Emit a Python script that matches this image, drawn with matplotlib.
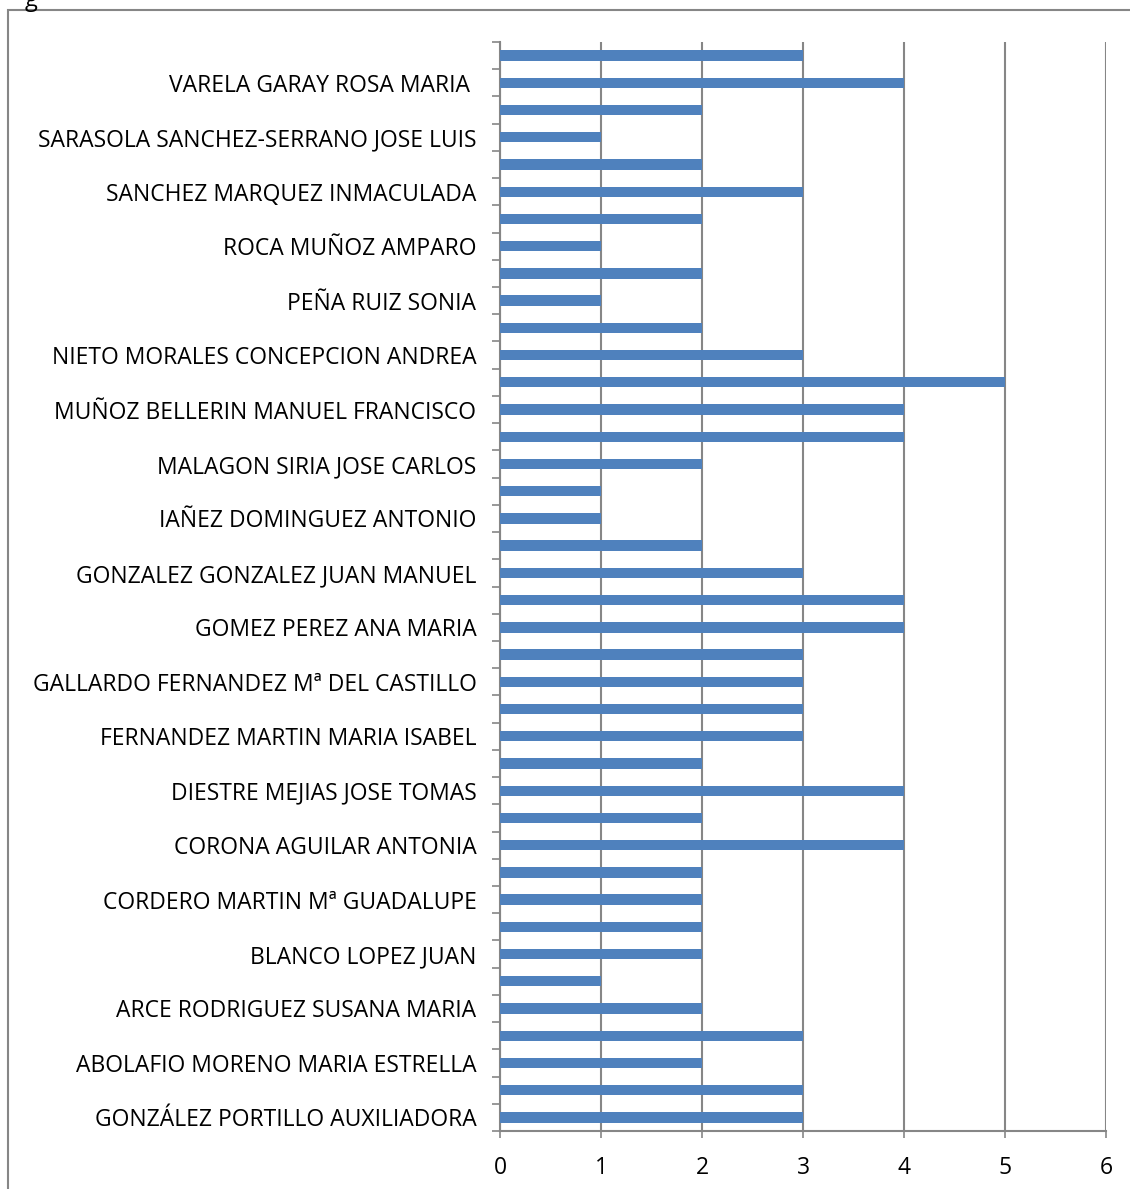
import matplotlib.pyplot as plt
from matplotlib.patches import Rectangle

# values from bottom to top (40 bars, every other one labelled)
valores = [3, 3, 2, 3, 2, 1, 2, 2, 2, 2,
           4, 2, 4, 2, 3, 3, 3, 3, 4, 4,
           3, 2, 1, 1, 2, 4, 4, 5, 3, 2,
           1, 2, 1, 2, 3, 2, 1, 2, 4, 3]

nombres = [
    "GONZÁLEZ PORTILLO AUXILIADORA",
    "ABOLAFIO MORENO MARIA ESTRELLA",
    "ARCE RODRIGUEZ SUSANA MARIA",
    "BLANCO LOPEZ JUAN",
    "CORDERO MARTIN Mª GUADALUPE",
    "CORONA AGUILAR ANTONIA",
    "DIESTRE MEJIAS JOSE TOMAS",
    "FERNANDEZ MARTIN MARIA ISABEL",
    "GALLARDO FERNANDEZ Mª DEL CASTILLO",
    "GOMEZ PEREZ ANA MARIA",
    "GONZALEZ GONZALEZ JUAN MANUEL",
    "IAÑEZ DOMINGUEZ ANTONIO",
    "MALAGON SIRIA JOSE CARLOS",
    "MUÑOZ BELLERIN MANUEL FRANCISCO",
    "NIETO MORALES CONCEPCION ANDREA",
    "PEÑA RUIZ SONIA",
    "ROCA MUÑOZ AMPARO",
    "SANCHEZ MARQUEZ INMACULADA",
    "SARASOLA SANCHEZ-SERRANO JOSE LUIS",
    "VARELA GARAY ROSA MARIA ",
]

xticks = [0, 1, 2, 3, 4, 5, 6]

plt.rcParams['font.family'] = ['Open Sans', 'DejaVu Sans']
gris = '#868686'
azul = '#4F81BD'

fig = plt.figure(figsize=(11.3, 11.89), dpi=100)

# outer chart frame (partially cut off like the original)
fig.patches.append(Rectangle((8 / 1130, -0.05), 1.2, 1 - 10 / 1189 + 0.05,
                             transform=fig.transFigure, fill=False,
                             edgecolor=gris, linewidth=1.5))
# title cut off at the top edge, only the descender is visible
fig.text(25 / 1130, 1.0, "g", fontsize=17, va='center', ha='left')

ax = fig.add_axes([500 / 1130, 58 / 1189, 606 / 1130, 1089 / 1189])

pos = list(range(len(valores)))
ax.barh(pos, valores, height=0.38, color=azul, zorder=3)

ax.set_xlim(0, 6)
ax.set_ylim(-0.5, len(valores) - 0.5)
ax.set_xticks(xticks)
ax.set_xticklabels([str(t) for t in xticks], fontsize=16.5)
ax.set_yticks(pos[::2])
ax.set_yticklabels(nombres, fontsize=16.5)
ax.set_yticks([p - 0.5 for p in range(len(valores) + 1)], minor=True)

ax.tick_params(axis='y', which='major', length=0, pad=17)
ax.tick_params(axis='y', which='minor', length=6, width=1.2, color=gris, direction='out')
ax.tick_params(axis='x', which='major', length=5, width=1.2, color=gris, pad=13)

ax.grid(axis='x', color=gris, linewidth=1.5, zorder=0)
for s in ['top', 'right']:
    ax.spines[s].set_visible(False)
for s in ['left', 'bottom']:
    ax.spines[s].set_color(gris)
    ax.spines[s].set_linewidth(1.5)

fig.savefig('out.png', dpi=100)
